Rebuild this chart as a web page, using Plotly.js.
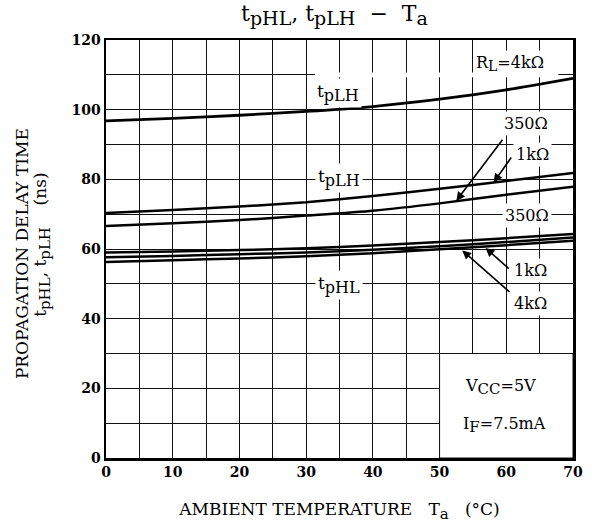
<!DOCTYPE html>
<html>
<head>
<meta charset="utf-8">
<script src="https://cdn.plot.ly/plotly-3.0.1.min.js"></script>
<style>html,body{margin:0;padding:0;background:#fff;}#chart{width:592px;height:526px;}</style>
</head>
<body>
<div id="chart"></div>
<script>
// Ambient temperature (°C)
const temps = [0, 10, 20, 30, 40, 50, 60, 70];
// tpLH series (ns)
const tpLH_4k = [96.8, 97.5, 98.4, 99.5, 100.9, 103.0, 105.7, 109.0];
const tpLH_1k = [70.3, 71.2, 72.2, 73.4, 75.2, 77.3, 79.5, 81.8];
const tpLH_350 = [66.6, 67.4, 68.3, 69.6, 71.0, 73.1, 75.6, 77.9];
// tpHL series (ns)
const tpHL_350 = [59.0, 59.3, 59.7, 60.2, 61.0, 62.0, 63.1, 64.3];
const tpHL_1k = [57.6, 58.0, 58.5, 59.0, 59.8, 60.8, 62.0, 63.3];
const tpHL_4k = [56.3, 56.8, 57.3, 57.9, 58.8, 59.9, 61.1, 62.4];

// grid positions and tick labels
const xGrid = [0, 5, 10, 15, 20, 25, 30, 35, 40, 45, 50, 55, 60, 65, 70];
const xLabels = ['0', '', '10', '', '20', '', '30', '', '40', '', '50', '', '60', '', '70'];
const yGrid = [0, 10, 20, 30, 40, 50, 60, 70, 80, 90, 100, 110, 120];
const yLabels = ['0', '', '20', '', '40', '', '60', '', '80', '', '100', '', '120'];

const SERIF = '"DejaVu Serif", "Liberation Serif", serif';
const series = [tpLH_4k, tpLH_1k, tpLH_350, tpHL_350, tpHL_1k, tpHL_4k];
const names = ['tpLH 4k', 'tpLH 1k', 'tpLH 350', 'tpHL 350', 'tpHL 1k', 'tpHL 4k'];

const traces = series.map((ys, i) => ({
  x: temps, y: ys, type: 'scatter', mode: 'lines', name: names[i],
  line: {color: '#000', width: i === 0 ? 2.8 : 2.5, shape: 'spline', smoothing: 0.6},
  hoverinfo: 'skip'
}));

function sb(t, px) { return '<sub><span style="font-size:' + px + 'px">' + t + '</span></sub>'; }

function lbl(x, y, text, size, bg) {
  return {x: x, y: y, xref: 'x', yref: 'y', text: text, showarrow: false,
    font: {family: SERIF, size: size || 15, color: '#000'},
    bgcolor: bg === false ? 'rgba(0,0,0,0)' : '#fff', borderpad: 2};
}
function arrow(tx, ty, hx, hy) {
  return {x: hx, y: hy, ax: tx, ay: ty, xref: 'x', yref: 'y', axref: 'x', ayref: 'y',
    text: '', showarrow: true, arrowhead: 2, arrowsize: 1.1, arrowwidth: 1.6, arrowcolor: '#000'};
}

const annotations = [
  lbl(34.75, 104.8, 't' + sb('pLH', 16), 17),
  lbl(34.9, 80.3, 't' + sb('pLH', 16), 17),
  lbl(34.9, 49.7, 't' + sb('pHL', 16), 17),
  lbl(60.6, 113.3, 'R' + sb('L', 14) + '=4kΩ', 16),
  lbl(63.0, 95.9, '350Ω', 16),
  lbl(64.0, 87.0, '1kΩ', 16),
  lbl(63.1, 69.6, '350Ω', 16),
  lbl(63.7, 53.8, '1kΩ', 16),
  lbl(63.7, 44.4, '4kΩ', 16),
  lbl(59.2, 20.5, 'V' + sb('CC', 15) + '=5V', 16, false),
  lbl(59.8, 9.5, 'I' + sb('F', 15) + '=7.5mA', 16, false),
  arrow(59.6, 91.8, 52.5, 73.8),
  arrow(60.9, 86.7, 58.1, 79.1),
  arrow(60.6, 54.0, 56.9, 60.3),
  arrow(60.7, 47.3, 53.4, 59.6),
  {xref: 'paper', yref: 'paper', x: -0.18, y: 0.49, textangle: -90, showarrow: false,
   text: 'PROPAGATION DELAY TIME',
   font: {family: SERIF, size: 17, color: '#000'}, xanchor: 'center', yanchor: 'middle'},
  {xref: 'paper', yref: 'paper', x: -0.137, y: 0.51, textangle: -90, showarrow: false,
   text: 't' + sb('pHL', 15) + ', t' + sb('pLH', 15) + '    (ns)',
   font: {family: SERIF, size: 17, color: '#000'}, xanchor: 'center', yanchor: 'middle'}
];

const shapes = [
  {type: 'rect', xref: 'x', yref: 'y', x0: 50, x1: 70, y0: 0, y1: 30,
   fillcolor: '#fff', line: {color: '#111', width: 1}, layer: 'between'},
  {type: 'rect', xref: 'x', yref: 'y', x0: 31.3, x1: 67.8, y0: 109.3, y1: 110.7,
   fillcolor: '#fff', line: {width: 0}, layer: 'between'}
];

const layout = {
  width: 592, height: 526,
  margin: {l: 106, r: 19, t: 40, b: 68},
  paper_bgcolor: '#fff', plot_bgcolor: '#fff',
  showlegend: false,
  title: {text: 't' + sb('pHL', 19) + ', t' + sb('pLH', 19) + '  −  T' + sb('a', 19),
          x: 0.565, xanchor: 'center', y: 0.99, yanchor: 'top',
          font: {family: SERIF, size: 22, color: '#000'}},
  xaxis: {range: [0, 70], tickvals: xGrid, ticktext: xLabels, showgrid: true,
    gridcolor: '#111', gridwidth: 1, zeroline: false, showline: true, mirror: true,
    linecolor: '#000', linewidth: 2.5, ticks: '',
    tickfont: {family: SERIF, size: 14, color: '#000', weight: 'bold'},
    title: {text: 'AMBIENT TEMPERATURE   T' + sb('a', 15) + '   (°C)', standoff: 24,
      font: {family: SERIF, size: 17, color: '#000'}}},
  yaxis: {range: [0, 120], tickvals: yGrid, ticktext: yLabels, showgrid: true,
    gridcolor: '#111', gridwidth: 1, zeroline: false, showline: true, mirror: true,
    linecolor: '#000', linewidth: 2.5, ticks: '',
    tickfont: {family: SERIF, size: 14, color: '#000', weight: 'bold'}},
  annotations: annotations,
  shapes: shapes
};

Plotly.newPlot('chart', traces, layout, {staticPlot: true, displayModeBar: false});
</script>
</body>
</html>
